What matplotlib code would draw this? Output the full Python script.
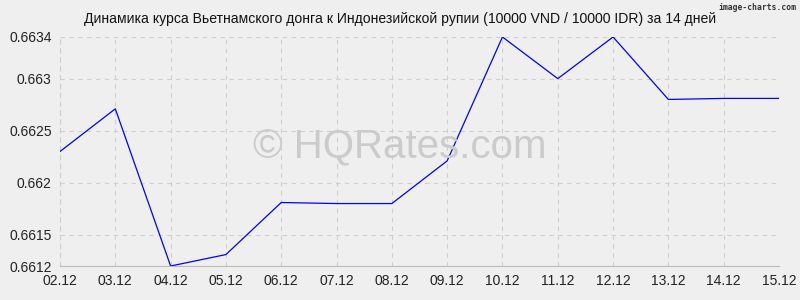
import matplotlib
matplotlib.use('Agg')
import matplotlib.pyplot as plt

dates = ['02.12', '03.12', '04.12', '05.12', '06.12', '07.12', '08.12',
         '09.12', '10.12', '11.12', '12.12', '13.12', '14.12', '15.12']
rate = [0.66230, 0.66271, 0.66120, 0.66131, 0.66181, 0.66180, 0.66180,
        0.66221, 0.66340, 0.66300, 0.66340, 0.66280, 0.66281, 0.66281]
yticks = [0.6612, 0.6615, 0.662, 0.6625, 0.663, 0.6634]
ylabels = ['0.6612', '0.6615', '0.662', '0.6625', '0.663', '0.6634']

plt.rcParams['font.family'] = ['Liberation Sans', 'DejaVu Sans']
bg = '#efefef'

fig = plt.figure(figsize=(8, 3), dpi=100, facecolor=bg)
ax = fig.add_axes([0.075, 0.1133, 0.89875, 0.7634], facecolor=bg)

x = list(range(len(dates)))
ax.plot(x, rate, color='#0000ff', lw=0.9, zorder=3)

ax.set_xlim(0, len(dates) - 1)
ax.set_ylim(yticks[0], yticks[-1])
ax.set_xticks(x)
ax.set_xticklabels(dates)
ax.set_yticks(yticks)
ax.set_yticklabels(ylabels)
ax.tick_params(length=0, labelsize=10, pad=6, colors='#222222')
ax.grid(True, color='#cfcfcf', ls=(0, (4, 4)), lw=0.8)
for s in ['top', 'right']:
    ax.spines[s].set_visible(False)
ax.spines['left'].set_color('#cfcfcf')
ax.spines['left'].set_linestyle((0, (4, 4)))
ax.spines['bottom'].set_color('#bbbbbb')

fig.text(0.5, 0.937, 'Динамика курса Вьетнамского донга к Индонезийской рупии '
         '(10000 VND / 10000 IDR) за 14 дней', ha='center', va='center',
         fontsize=10.1, color='#111111')
fig.text(0.996, 0.99, 'image-charts.com', ha='right', va='top',
         fontsize=5.8, color='#333333', family='DejaVu Sans Mono',
         weight='bold')
fig.text(0.5, 0.508, '© HQRates.com', ha='center', va='center',
         fontsize=29, color='#cbcbcb', zorder=1)

fig.savefig('out.png', dpi=100, facecolor=bg)
